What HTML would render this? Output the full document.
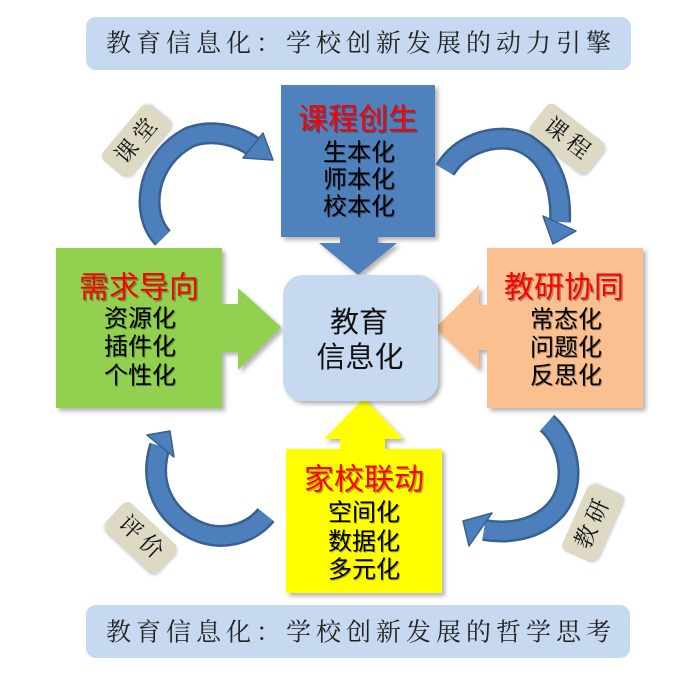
<!DOCTYPE html>
<html>
<head>
<meta charset="utf-8">
<style>
  html, body { margin: 0; padding: 0; background: #ffffff; }
  body { width: 700px; height: 675px; overflow: hidden; }
  svg { display: block; }
  .hei { font-family: "Liberation Sans", "Noto Sans CJK SC", sans-serif; }
  .song { font-family: "Liberation Serif", "Noto Serif CJK SC", serif; }
</style>
</head>
<body>
<svg width="700" height="675" viewBox="0 0 700 675" xmlns="http://www.w3.org/2000/svg">
  <defs>
    <filter id="sh" x="-10%" y="-10%" width="130%" height="130%">
      <feDropShadow dx="3" dy="3" stdDeviation="2" flood-color="#000" flood-opacity="0.3"/>
    </filter>
    <filter id="shs" x="-20%" y="-20%" width="150%" height="150%">
      <feDropShadow dx="1.5" dy="1.5" stdDeviation="1.5" flood-color="#000" flood-opacity="0.25"/>
    </filter>
  </defs>

  <rect x="0" y="0" width="700" height="675" fill="#ffffff"/>

  <!-- Top banner -->
  <rect x="86" y="17" width="545" height="53" rx="10" fill="#c6d9f1"/>
  <text class="song" x="361" y="44" font-size="25" letter-spacing="5" text-anchor="middle" dominant-baseline="central" fill="#222">教育信息化：学校创新发展的动力引擎</text>

  <!-- Bottom banner -->
  <rect x="86" y="605" width="544" height="53" rx="10" fill="#c6d9f1"/>
  <text class="song" x="361" y="633" font-size="25" letter-spacing="5" text-anchor="middle" dominant-baseline="central" fill="#222">教育信息化：学校创新发展的哲学思考</text>

  <!-- Blue box + down arrow -->
  <g filter="url(#sh)">
    <polygon points="340,236 378,236 378,243 397,243 358,275 319,243 340,243" fill="#4f81bd"/>
    <rect x="281" y="85" width="154" height="152" fill="#4f81bd"/>
  </g>

  <!-- Green box + right arrow -->
  <g filter="url(#sh)">
    <polygon points="221,304 238,304 238,288 281,327 238,370 238,352 221,352" fill="#92d050"/>
    <rect x="56" y="248" width="166" height="160" fill="#92d050"/>
  </g>

  <!-- Peach box + left arrow -->
  <g filter="url(#sh)">
    <polygon points="488,305 479,305 479,285 435,328 479,370 479,350 488,350" fill="#fac090"/>
    <rect x="487" y="248" width="156" height="160" fill="#fac090"/>
  </g>

  <!-- Yellow box + up arrow -->
  <g filter="url(#sh)">
    <polygon points="340,450 340,439 324,439 364,398 403,439 385,439 385,450" fill="#ffff00"/>
    <rect x="286" y="449" width="156" height="144" fill="#ffff00"/>
  </g>

  <!-- Center box -->
  <rect x="283" y="275" width="155" height="126" rx="20" fill="#c6d9f1" filter="url(#sh)"/>
  <text class="hei" x="359" y="323" font-size="29" text-anchor="middle" dominant-baseline="central" fill="#111">教育</text>
  <text class="hei" x="360" y="358" font-size="29" text-anchor="middle" dominant-baseline="central" fill="#111">信息化</text>

  <!-- Blue box text -->
  <text class="hei" x="359.5" y="121.5" font-size="30" text-anchor="middle" dominant-baseline="central" fill="#000" opacity="0.3">课程创生</text>
  <text class="hei" x="358" y="120" font-size="30" text-anchor="middle" dominant-baseline="central" fill="#ff0000">课程创生</text>
  <g class="hei" font-size="24" text-anchor="middle" dominant-baseline="central">
    <text x="360" y="154" fill="#000" opacity="0.35">生本化</text>
    <text x="359" y="153" fill="#000">生本化</text>
    <text x="360" y="181" fill="#000" opacity="0.35">师本化</text>
    <text x="359" y="180" fill="#000">师本化</text>
    <text x="360" y="208" fill="#000" opacity="0.35">校本化</text>
    <text x="359" y="207" fill="#000">校本化</text>
  </g>

  <!-- Green box text -->
  <text class="hei" x="140.5" y="289.5" font-size="30" text-anchor="middle" dominant-baseline="central" fill="#000" opacity="0.3">需求导向</text>
  <text class="hei" x="139" y="288" font-size="30" text-anchor="middle" dominant-baseline="central" fill="#ff0000">需求导向</text>
  <g class="hei" font-size="24" text-anchor="middle" dominant-baseline="central">
    <text x="141" y="320" fill="#000" opacity="0.35">资源化</text>
    <text x="140" y="319" fill="#000">资源化</text>
    <text x="141" y="348" fill="#000" opacity="0.35">插件化</text>
    <text x="140" y="347" fill="#000">插件化</text>
    <text x="141" y="377" fill="#000" opacity="0.35">个性化</text>
    <text x="140" y="376" fill="#000">个性化</text>
  </g>

  <!-- Peach box text -->
  <text class="hei" x="565.5" y="289.5" font-size="30" text-anchor="middle" dominant-baseline="central" fill="#000" opacity="0.3">教研协同</text>
  <text class="hei" x="564" y="288" font-size="30" text-anchor="middle" dominant-baseline="central" fill="#ff0000">教研协同</text>
  <g class="hei" font-size="24" text-anchor="middle" dominant-baseline="central">
    <text x="567" y="321" fill="#000" opacity="0.35">常态化</text>
    <text x="566" y="320" fill="#000">常态化</text>
    <text x="567" y="349" fill="#000" opacity="0.35">问题化</text>
    <text x="566" y="348" fill="#000">问题化</text>
    <text x="567" y="377" fill="#000" opacity="0.35">反思化</text>
    <text x="566" y="376" fill="#000">反思化</text>
  </g>

  <!-- Yellow box text -->
  <text class="hei" x="365.5" y="481.5" font-size="30" text-anchor="middle" dominant-baseline="central" fill="#000" opacity="0.3">家校联动</text>
  <text class="hei" x="364" y="480" font-size="30" text-anchor="middle" dominant-baseline="central" fill="#ff0000">家校联动</text>
  <g class="hei" font-size="24" text-anchor="middle" dominant-baseline="central">
    <text x="365" y="514" fill="#000" opacity="0.35">空间化</text>
    <text x="364" y="513" fill="#000">空间化</text>
    <text x="365" y="543" fill="#000" opacity="0.35">数据化</text>
    <text x="364" y="542" fill="#000">数据化</text>
    <text x="365" y="571" fill="#000" opacity="0.35">多元化</text>
    <text x="364" y="570" fill="#000">多元化</text>
  </g>

  <!-- Curved arrows -->
  <g fill="none" stroke-linecap="butt">
    <!-- top-left -->
    <path d="M163,238 C140,215 145,160 190,137 C215,128 240,137 254,147" stroke="#38618f" stroke-width="22"/>
    <path d="M163,238 C140,215 145,160 190,137 C215,128 240,137 254,147" stroke="#4c7fbc" stroke-width="17"/>
    <!-- top-right -->
    <path d="M445,170 C460,145 490,135 515,140 C545,148 562,180 560,222" stroke="#38618f" stroke-width="22"/>
    <path d="M445,170 C460,145 490,135 515,140 C545,148 562,180 560,222" stroke="#4c7fbc" stroke-width="17"/>
    <!-- bottom-right -->
    <path d="M547,423 C572,445 578,492 550,515 C533,530 508,534 484,530" stroke="#38618f" stroke-width="22"/>
    <path d="M547,423 C572,445 578,492 550,515 C533,530 508,534 484,530" stroke="#4c7fbc" stroke-width="17"/>
    <!-- bottom-left -->
    <path d="M266,515 C250,535 220,542 195,530 C165,515 148,485 160,446" stroke="#38618f" stroke-width="22"/>
    <path d="M266,515 C250,535 220,542 195,530 C165,515 148,485 160,446" stroke="#4c7fbc" stroke-width="17"/>
  </g>
  <g fill="#4c7fbc" stroke="#38618f" stroke-width="1.5" stroke-linejoin="round">
    <polygon points="263,133 273,160 243,158"/>
    <polygon points="543,216 576,231 553,244"/>
    <polygon points="463,521 492,513 469,546"/>
    <polygon points="147,435 170,431 174,457"/>
  </g>

  <!-- Tags -->
  <g class="song" font-size="23" text-anchor="middle" dominant-baseline="central" fill="#111">
    <g transform="translate(136,141) rotate(-50)">
      <rect x="-36" y="-18" width="72" height="36" rx="7" fill="#ddd9c3" filter="url(#shs)"/>
      <text x="2.5" y="0" letter-spacing="5">课堂</text>
    </g>
    <g transform="translate(567,138) rotate(38)">
      <rect x="-36" y="-19" width="73" height="38" rx="7" fill="#ddd9c3" filter="url(#shs)"/>
      <text x="2.5" y="0" letter-spacing="5">课程</text>
    </g>
    <g transform="translate(141,537) rotate(43)">
      <rect x="-36" y="-18" width="72" height="37" rx="7" fill="#ddd9c3" filter="url(#shs)"/>
      <text x="2.5" y="0" letter-spacing="5">评价</text>
    </g>
    <g transform="translate(592,524) rotate(-66)">
      <rect x="-36" y="-19" width="73" height="38" rx="7" fill="#ddd9c3" filter="url(#shs)"/>
      <text x="2.5" y="0" letter-spacing="5">教研</text>
    </g>
  </g>
</svg>
</body>
</html>
